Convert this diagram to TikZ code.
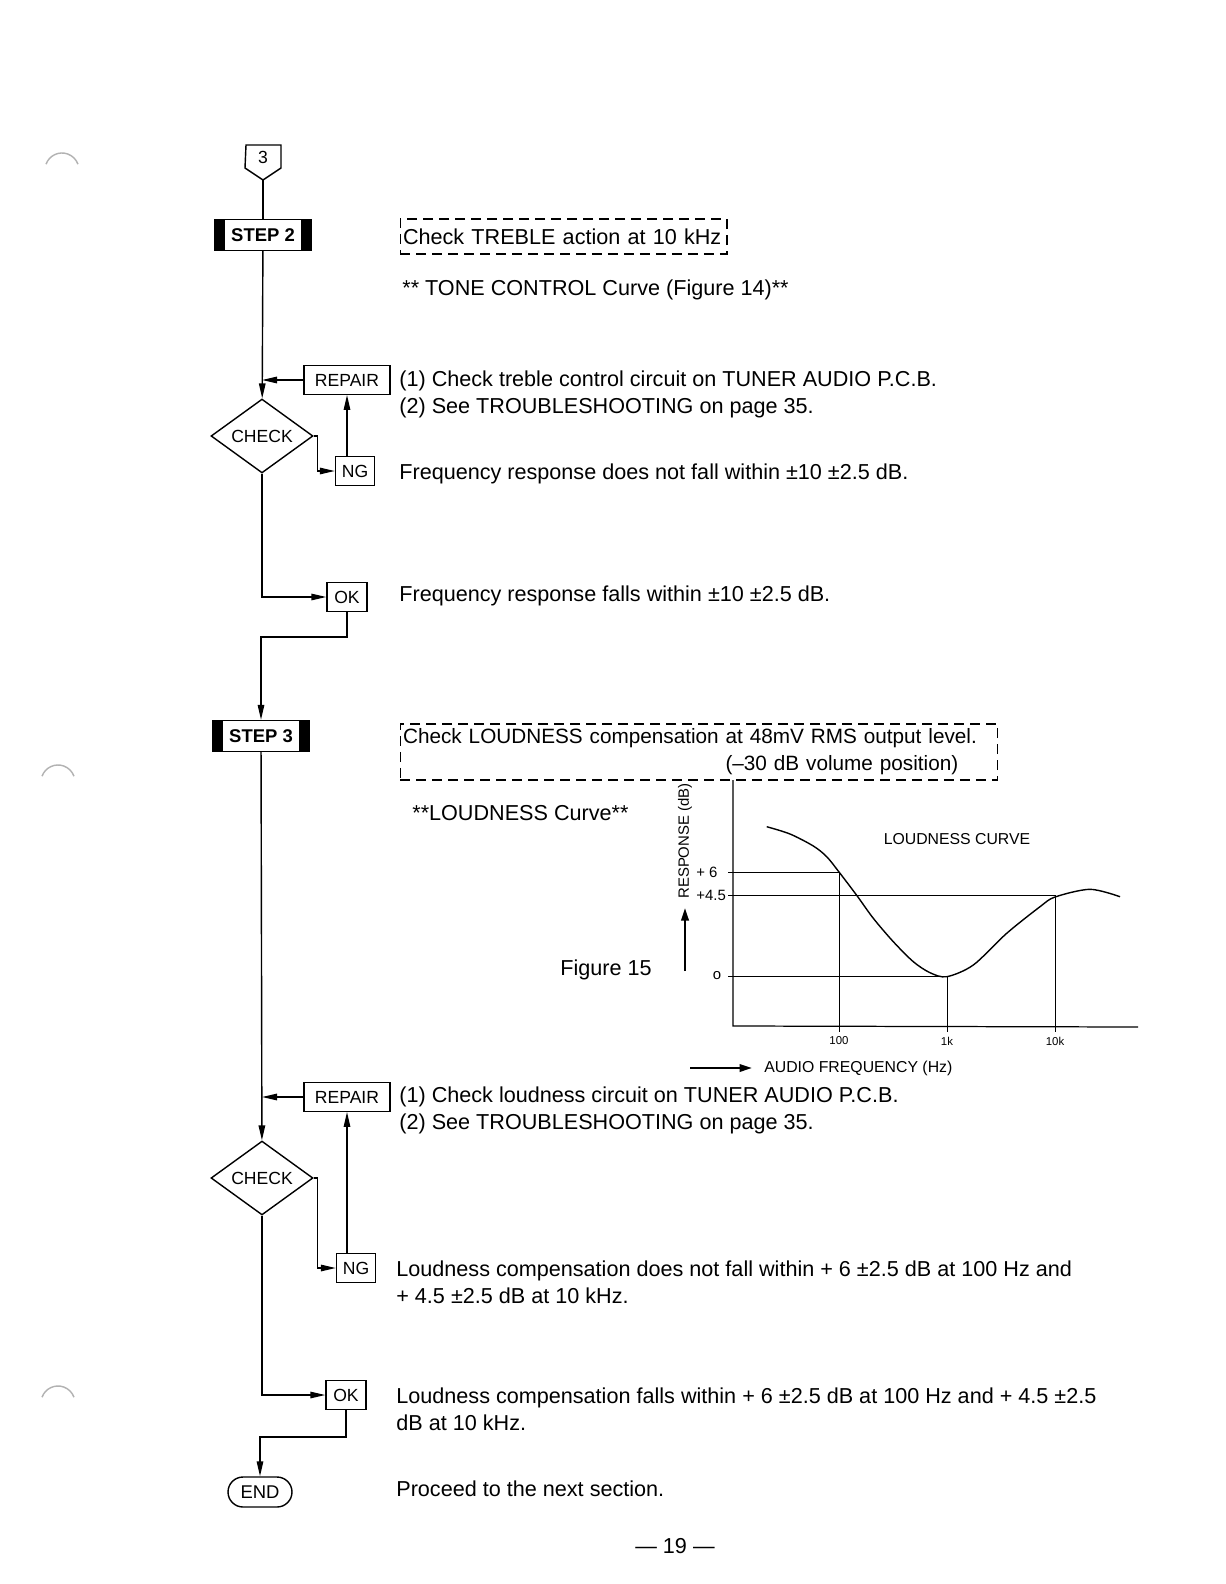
\documentclass[tikz,border=0pt]{standalone}
\usepackage{fontspec}
\setmainfont{Liberation Sans}
\usetikzlibrary{shapes.geometric, arrows.meta}

\begin{document}
\begin{tikzpicture}[
        x=0.02cm, y=-0.02cm,
        every node/.style={font=\fontsize{12.3}{15.5}\selectfont},
        box/.style={rectangle, draw, line width=0.8pt, inner sep=0pt, minimum height=0.57cm, font=\fontsize{10}{12}\selectfont},
        stepbox/.style={rectangle, draw, line width=0.8pt, minimum width=1.93cm, minimum height=0.62cm, font=\fontsize{10.5}{12}\selectfont\bfseries,
            path picture={\fill (path picture bounding box.north west) rectangle ([xshift=0.21cm]path picture bounding box.south west);
                \fill ([xshift=-0.21cm]path picture bounding box.north east) rectangle (path picture bounding box.south east);}},
        check/.style={diamond, draw, line width=0.8pt, inner sep=0pt, minimum width=2.04cm, minimum height=1.12cm, font=\fontsize{10}{12}\selectfont},
        endbox/.style={rectangle, draw, rounded corners=0.3cm, line width=0.8pt, minimum width=1.28cm, minimum height=0.6cm, font=\fontsize{10.5}{12}\selectfont},
        note/.style={anchor=west, inner sep=0pt, align=left},
        dashbox/.style={draw, dash pattern=on 0.2cm off 0.12cm, line width=0.6pt, align=left, inner xsep=0.06cm, inner ysep=0pt},
        line/.style={draw, line width=0.8pt, -{Triangle[length=0.3cm, width=0.13cm]}},
        gridline/.style={line width=0.5pt},
        axlabel/.style={inner sep=0pt, font=\fontsize{8.5}{10}\selectfont}
    ]
        \fill[white] (0,0) rectangle (1225,1584);
        \useasboundingbox (0,0) rectangle (1225,1584);

        % punch holes
        \draw[gray!60, line width=0.8pt] (62,170) ++(160:0.34cm) arc[start angle=160, end angle=20, radius=0.34cm];
        \draw[gray!60, line width=0.8pt] (58,782) ++(160:0.34cm) arc[start angle=160, end angle=20, radius=0.34cm];
        \draw[gray!60, line width=0.8pt] (58,1403) ++(160:0.34cm) arc[start angle=160, end angle=20, radius=0.34cm];

        % Entrada 3
        \node[font=\fontsize{10}{12}\selectfont] (start) at (263,157) {3};
        \draw[line width=0.8pt] (246,145) -- (281,145) -- (281,168) -- (263,180) -- (245,168) -- cycle;
        \coordinate (starttip) at (263,180);

        % STEP 2
        \node[stepbox] (step2) at (263,235) {STEP 2};
        \node[check] (check1) at (262,436) {CHECK};
        \node[box, minimum width=1.72cm] (repair1) at (347,380) {REPAIR};
        \node[box, minimum width=0.78cm] (ng1) at (355,471) {NG};
        \node[box, minimum width=0.8cm] (ok1) at (347,597) {OK};

        % STEP 3
        \node[stepbox] (step3) at (261,736) {STEP 3};
        \node[check] (check2) at (262,1178) {CHECK};
        \node[box, minimum width=1.72cm] (repair2) at (347,1097) {REPAIR};
        \node[box, minimum width=0.78cm] (ng2) at (356,1268) {NG};
        \node[box, minimum width=0.8cm] (ok2) at (346,1395) {OK};
        \node[endbox] (end) at (260,1492) {END};

        \draw[line width=0.8pt] (starttip) -- (step2);
        \draw[line] (step2) -- (check1);
        \draw[line] (repair1) -- (repair1 -| check1);
        \draw[line] (check1.east) -- ++(4,0) |- (ng1);
        \draw[line] (ng1.north -| repair1) -- (repair1);
        \draw[line] (check1) |- (ok1);
        \draw[line] (ok1.south) -- ++(0,25) -| (step3);

        \draw[line] (step3) -- (check2);
        \draw[line] (repair2) -- (repair2 -| check2);
        \draw[line] (check2.east) -- ++(4,0) |- (ng2);
        \draw[line] (ng2.north -| repair2) -- (repair2);
        \draw[line] (check2) |- (ok2);
        \draw[line] (ok2.south) -- ++(0,27) -| (end);

        % Textos STEP 2
        \node[dashbox, text width=6.42cm, minimum height=0.7cm] (treble) at (563.5,236.5) {\mbox{Check TREBLE action at 10 kHz}};
        \node[note] (tone) at (402,290) {** TONE CONTROL Curve (Figure 14)**};
        \node[note] (repairtxt1) at (399,394.5) {(1) Check treble control circuit on TUNER AUDIO P.C.B.\\(2) See TROUBLESHOOTING on page 35.};
        \node[note] (ngtxt1) at (399,474) {Frequency response does not fall within ±10 ±2.5 dB.};
        \node[note] (oktxt1) at (399,596) {Frequency response falls within ±10 ±2.5 dB.};

        % Textos STEP 3
        \node[dashbox, text width=11.84cm, minimum height=1.12cm, font=\fontsize{11.8}{15.5}\selectfont] (loudness) at (699,752)
            {\mbox{Check LOUDNESS compensation at 48mV RMS output level.}\\\hspace*{6.45cm}(--30 dB volume position)};
        \node[note] (curvetxt) at (412,813) {**LOUDNESS Curve**};
        \node (fig) at (606,970) {Figure 15};
        \node[note] (repairtxt2) at (399,1110.5) {(1) Check loudness circuit on TUNER AUDIO P.C.B.\\(2) See TROUBLESHOOTING on page 35.};
        \node[note] (ngtxt2) at (396,1282.5) {Loudness compensation does not fall within + 6 ±2.5 dB at 100 Hz and\\+ 4.5 ±2.5 dB at 10 kHz.};
        \node[note] (oktxt2) at (396,1409) {Loudness compensation falls within + 6 ±2.5 dB at 100 Hz and + 4.5 ±2.5\\dB at 10 kHz.};
        \node[note] (proceed) at (396,1489) {Proceed to the next section.};
        \node (page) at (675,1546) {--- 19 ---};

        % Grafica
        \draw[line width=0.7pt] (733,780) -- (733,1026) -- (1138,1027);
        \draw[gridline] (728,872) -- (839,872) -- (839,1032);
        \draw[gridline] (728,895) -- (1055,895) -- (1055,1032);
        \draw[gridline] (728,976) -- (947,976) -- (947,1032);
        \draw[line width=0.8pt] plot[smooth, tension=0.5] coordinates {(766.7,826.7) (790,834) (813.3,846) (826.7,856.7) (839,872) (856.7,895.3) (873.3,918.3) (893.3,941.7) (913.3,961.7) (930,972.7) (946.7,976.7) (973.3,965) (1006.7,933.3) (1040,906.7) (1055,897) (1090,889.3) (1120,896.7)};

        \node[axlabel, anchor=west] (p6) at (696,872) {+ 6};
        \node[axlabel, anchor=west] (p45) at (696,895) {+4.5};
        \node[axlabel] (p0) at (717,976) {o};
        \node[axlabel, font=\fontsize{6.5}{8}\selectfont] (f100) at (839,1041) {100};
        \node[axlabel, font=\fontsize{6.5}{8}\selectfont] (f1k) at (947,1041) {1k};
        \node[axlabel, font=\fontsize{6.5}{8}\selectfont] (f10k) at (1055,1041) {10k};
        \node[axlabel, font=\fontsize{9}{10}\selectfont] (curvename) at (957,839) {LOUDNESS CURVE};
        \node[axlabel, rotate=90] (resp) at (685,841) {RESPONSE (dB)};
        \node[axlabel, anchor=west, font=\fontsize{9}{10}\selectfont] (freq) at (764,1068) {AUDIO FREQUENCY (Hz)};
        \coordinate (respbot) at (685,971);
        \coordinate (freqleft) at (690,1068);
        \draw[line width=1.2pt, -{Triangle[length=0.25cm, width=0.15cm]}] (respbot) -- (resp.west |- 0,908);
        \draw[line width=1.2pt, -{Triangle[length=0.25cm, width=0.15cm]}] (freqleft) -- (752,1068);
    \end{tikzpicture}
\end{document}
